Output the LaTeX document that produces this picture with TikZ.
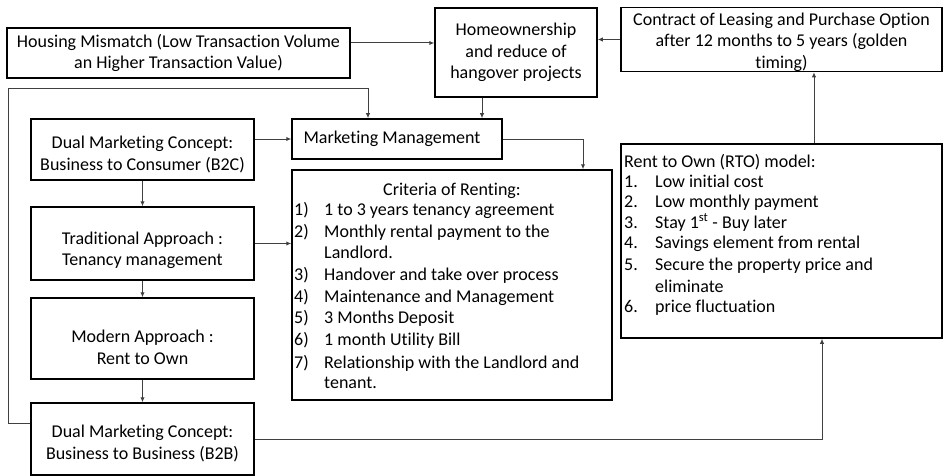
\documentclass[tikz,border=0pt]{standalone}
\usepackage{fontspec}
\setmainfont[Ligatures=NoCommon]{Carlito}
\usetikzlibrary{arrows.meta}
\tikzset{
  box/.style={draw=black, line width=1.5pt, inner sep=0pt, align=center, font=\fontsize{18}{21.5}\selectfont},
  arr/.style={draw=black!75, line width=1pt, -{Latex[length=5pt,width=4.5pt]}},
  txt/.style={inner sep=0pt, font=\fontsize{18}{21.5}\selectfont, anchor=base west},
}
\begin{document}
\begin{tikzpicture}[x=1pt,y=-1pt]
\useasboundingbox (0,0) rectangle (944,476);
% boxes
\node[box, minimum width=343pt, minimum height=50pt] (hm) at (178.5,53) {Housing Mismatch (Low Transaction Volume\\an Higher Transaction Value)};
\node[box, minimum width=162pt, minimum height=89pt] (ho) at (516,52.5) {Homeownership\\and reduce of\\hangover projects};
\node[box, minimum width=321pt, minimum height=63pt] (co) at (781.5,39.5) {\rule{0pt}{18pt}Contract of Leasing and Purchase Option\\after 12 months to 5 years (golden\\timing)};
\node[box, minimum width=210pt, minimum height=40pt] (mm) at (397,139) {\hspace{-10pt}Marketing Management};
\node[box, minimum width=320pt, minimum height=230pt] (cr) at (452,285) {};
\node[box, minimum width=223pt, minimum height=61pt] (b2c) at (142.5,149.5) {\rule{0pt}{22pt}Dual Marketing Concept:\\Business to Consumer (B2C)};
\node[box, minimum width=223pt, minimum height=73pt] (tr) at (142.5,243.5) {\rule{0pt}{26pt}Traditional Approach :\\Tenancy management};
\node[box, minimum width=223pt, minimum height=81pt] (mo) at (142.5,338.5) {\rule{0pt}{30pt}Modern Approach :\\Rent to Own};
\node[box, minimum width=223pt, minimum height=72pt] (b2b) at (142.5,439) {\rule{0pt}{21pt}Dual Marketing Concept:\\Business to Business (B2B)};
\node[box, minimum width=321pt, minimum height=194pt] (rto) at (781.5,241) {};
% criteria text
\node[inner sep=0pt, font=\fontsize{18}{21.5}\selectfont, anchor=base] (crt) at (452,195) {Criteria of Renting:};
\foreach \n/\t/\y in {1)/1 to 3 years tenancy agreement/215, 2)/Monthly rental payment to the/237, 3)/Handover and take over process/280, 4)/Maintenance and Management/302, 5)/3 Months Deposit/323, 6)/1 month Utility Bill/345, 7)/Relationship with the Landlord and/368}{
  \node[txt] at (294,\y) {\n};
  \node[txt] at (324,\y) {\t};
}
\node[txt] at (324,258) {Landlord.};
\node[txt] at (324,388) {tenant.};
% RTO text
\node[txt] at (624,167) {Rent to Own (RTO) model:};
\foreach \n/\t/\y in {1./Low initial cost/187, 2./Low monthly payment/207, 3./Stay 1\textsuperscript{st} - Buy later/228, 4./Savings element from rental/248, 5./Secure the property price and/270, 6./price fluctuation/312}{
  \node[txt] at (624,\y) {\n};
  \node[txt] at (655,\y) {\t};
}
\node[txt] at (655,292) {eliminate};
% connectors
\draw[arr] ([yshift=10pt]hm.east) -- ([yshift=10pt]hm.east -| ho.west);
\draw[arr] (co.west) -- (co.west -| ho.east);
\draw[arr] ([xshift=-34pt]ho.south) -- ([xshift=-34pt]ho.south |- mm.north);
\coordinate (lp) at (8,89);
\draw[arr] ([yshift=16pt]b2b.west) -| (lp) -| ([xshift=-29pt]mm.north);
\draw[arr] (b2c.east |- mm.west) -- (mm.west);
\draw[arr] (mm.east) -| ([xshift=131pt]cr.north);
\draw[arr] (tr.east) -- (tr.east -| cr.west);
\draw[arr] (b2c.south) -- (tr.north);
\draw[arr] (tr.south) -- (mo.north);
\draw[arr] (mo.south) -- (b2b.north);
\draw[arr] (b2b.east) -| ([xshift=40.5pt]rto.south);
\draw[arr] ([xshift=32.5pt]rto.north) -- ([xshift=32.5pt]co.south);
\end{tikzpicture}
\end{document}
